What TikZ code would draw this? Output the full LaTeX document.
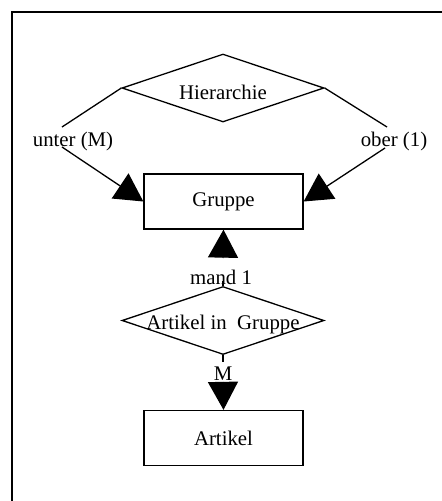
\documentclass[tikz,border=0pt]{standalone}
\usepackage{fontspec}
\setmainfont{Liberation Serif}
\usetikzlibrary{shapes.geometric,arrows.meta}
\begin{document}
\begin{tikzpicture}[x=1pt,y=-1pt,
  font=\fontsize{20.8}{24}\selectfont,
  conn/.style={line width=1.3pt},
  arr/.style={line width=1.3pt,-{Triangle[length=28pt,width=30pt]}},
  relation/.style={diamond,draw,line width=1.3pt,minimum width=202pt,minimum height=68pt,inner sep=0pt},
  entity/.style={rectangle,draw,line width=1.3pt,minimum width=159pt,minimum height=55pt,inner sep=0pt},
  card/.style={inner sep=0pt}]
  \useasboundingbox (0,0) rectangle (442,501);
  % open frame: top and left edges only
  \draw[line width=1.8pt] (12,501) -- (12,12) -- (442,12);

  % entities
  \node[entity] (gruppe) at (223.5,201.5) {Gruppe};
  \node[entity] (artikel) at (223.5,438) {Artikel};

  % relationships
  \node[relation] (hier) at (223,88) {};
  \node (hiertext) at (223,92) {Hierarchie};
  \node[relation] (aig) at (223,320.5) {};
  \node (aigtext) at (223,324) {Artikel in\ \ Gruppe};

  % cardinality labels
  \node[card] (unter) at (73,141) {unter (M)};
  \node[card] (ober) at (394,141) {ober (1)};
  \node[card] (mand) at (221,277) {mand 1};
  \node[card] (mlab) at (223,374) {M};

  % free ends of the split connectors
  \coordinate (u1) at (62,127);
  \coordinate (u2) at (62,147);
  \coordinate (o1) at (387,127);
  \coordinate (o2) at (385,148);
  \coordinate (m1) at (223,281);
  \coordinate (m2) at (223,258);
  \coordinate (n1) at (223,362);
  \coordinate (n2) at (223,382);

  % Hierarchie -> Gruppe
  \draw[conn] (hier.west) -- (u1);
  \draw[arr] (u2) -- (gruppe.west);
  \draw[conn] (hier.east) -- (o1);
  \draw[arr] (o2) -- (gruppe.east);

  % Artikel in Gruppe -> Gruppe / Artikel
  \draw[conn] (aig.north) -- (m1);
  \draw[arr] (m2) -- (gruppe.south);
  \draw[conn] (aig.south) -- (n1);
  \draw[arr] (n2) -- (artikel.north);
\end{tikzpicture}
\end{document}
